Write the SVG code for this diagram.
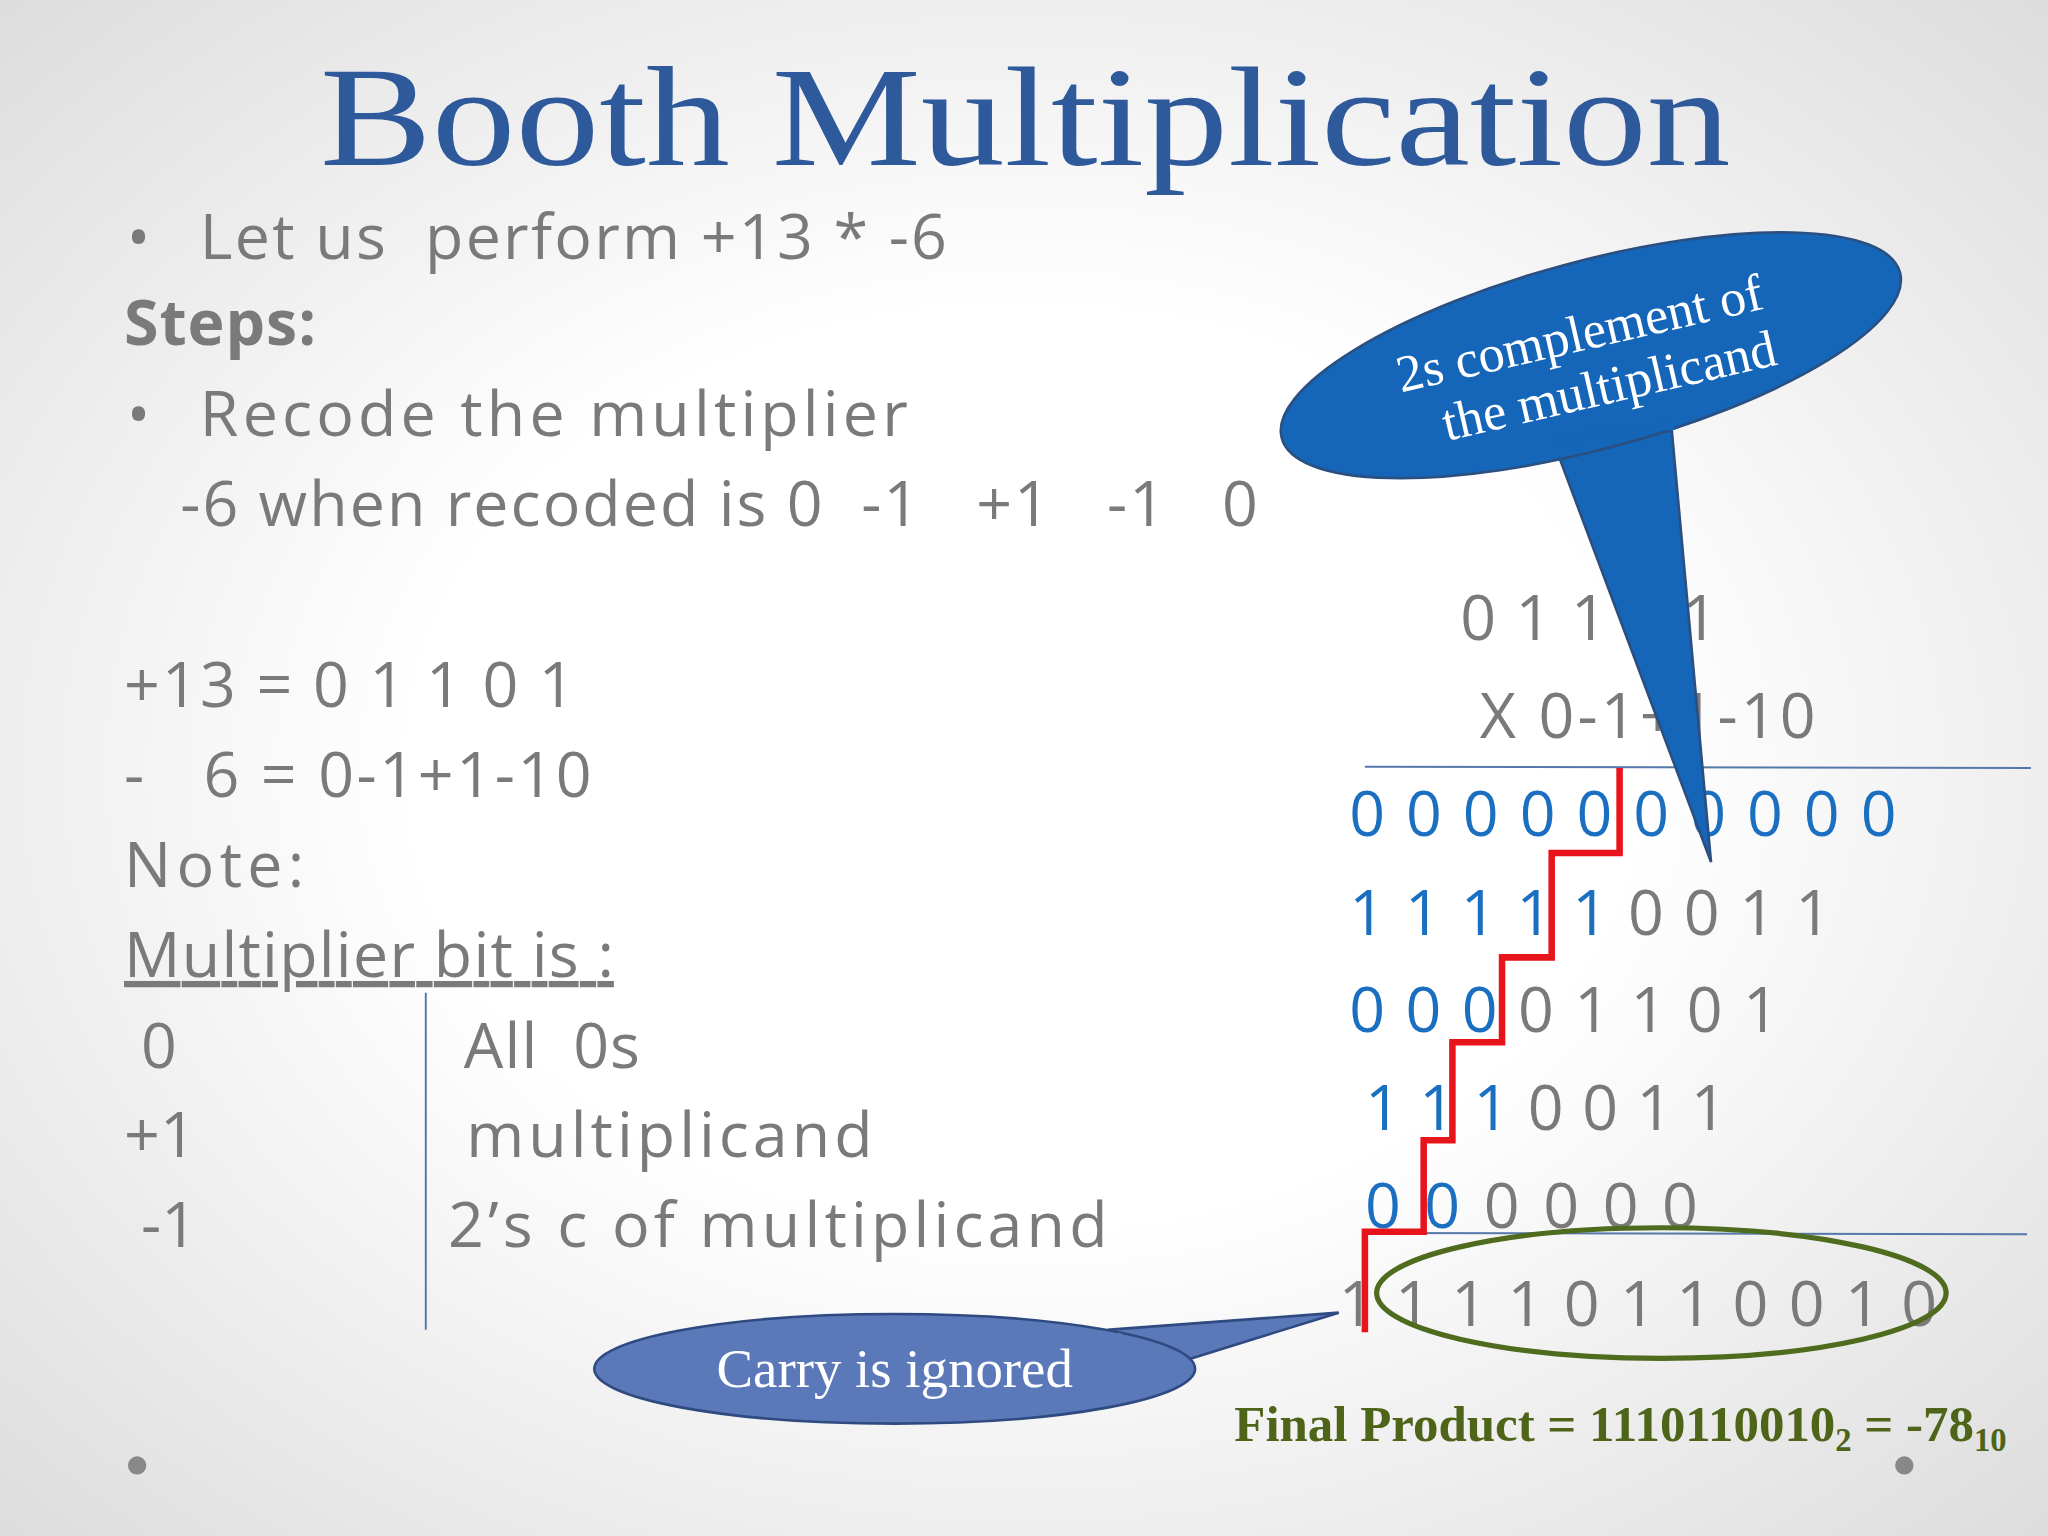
<svg xmlns="http://www.w3.org/2000/svg" width="2048" height="1536" viewBox="0 0 2048 1536">
<defs>
<radialGradient id="bg" cx="50%" cy="50%" r="75%"><stop offset="0.4" stop-color="#ffffff"/><stop offset="1" stop-color="#d9d9d9"/></radialGradient>
<style>
.t{font-family:"Open Sans","Liberation Sans",sans-serif;fill:#7a7a7a;font-size:48px}
.s{font-family:"Liberation Serif",serif}
</style>
</defs>
<rect width="2048" height="1536" fill="url(#bg)"/>
<g transform="scale(1.30612)">
<g id="title"><text x="245" y="126" textLength="1080" lengthAdjust="spacingAndGlyphs" class="s" font-size="108" fill="#2e5a9c">Booth Multiplication</text></g>
<g id="left">
<text class="t" x="97" y="198">•</text><text class="t" x="153" y="198" textLength="572">Let us&#160; perform +13 * -6</text>
<text class="t" x="95" y="264" font-weight="bold" font-size="44" textLength="147">Steps:</text>
<text class="t" x="97" y="334">•</text><text class="t" x="153" y="334" textLength="542">Recode the multiplier</text>
<text class="t" x="138" y="403" textLength="825">-6 when recoded is 0&#160; -1&#160;&#160; +1&#160;&#160; -1&#160;&#160; 0</text>
<text class="t" x="95" y="541" textLength="345">+13 = 0 1 1 0 1</text>
<text class="t" x="95" y="610" textLength="358">-&#160;&#160; 6 = 0-1+1-10</text>
<text class="t" x="95" y="679" textLength="138">Note:</text>
<text class="t" x="95" y="748" textLength="375" text-decoration="underline">Multiplier bit is :</text>
<text class="t" x="108" y="818">0</text><text class="t" x="355" y="818" textLength="135">All&#160; 0s</text>
<text class="t" x="95" y="886">+1</text><text class="t" x="357" y="886" textLength="311">multiplicand</text>
<text class="t" x="108" y="955">-1</text><text class="t" x="343" y="955" textLength="505">2’s c of multiplicand</text>
<line x1="326" y1="760" x2="326" y2="1018" stroke="#5577aa" stroke-width="1.5"/>
</g>
<g id="calc">
<text class="t" x="1118" y="490" textLength="197">0 1 1 0 1</text>
<text class="t" x="1133" y="565" textLength="257">X 0-1+1-10</text>
<line x1="1045" y1="587" x2="1555" y2="588" stroke="#5577aa" stroke-width="1.5"/>
<text class="t" x="1033" y="640" style="fill:#1a6fc0" textLength="419">0 0 0 0 0 0 0 0 0 0</text>
<text class="t" x="1033" y="716" textLength="369"><tspan style="fill:#1a6fc0">1 1 1 1 1 </tspan>0 0 1 1</text>
<text class="t" x="1033" y="790" textLength="329"><tspan style="fill:#1a6fc0">0 0 0 </tspan>0 1 1 0 1</text>
<text class="t" x="1045" y="865" textLength="277"><tspan style="fill:#1a6fc0">1 1 1 </tspan>0 0 1 1</text>
<text class="t" x="1045" y="940" textLength="255"><tspan style="fill:#1a6fc0">0 0 </tspan>0 0 0 0</text>
<line x1="1045" y1="944" x2="1552" y2="945" stroke="#5577aa" stroke-width="1.5"/>
<text class="t" x="1025" y="1015" textLength="458">1 1 1 1 0 1 1 0 0 1 0</text>
<path d="M1045,1020 V943 H1090 V873 H1112 V798 H1150 V733 H1188 V653 H1240 V588" fill="none" stroke="#e8141c" stroke-width="5"/>
<ellipse cx="1272" cy="990" rx="218" ry="50" fill="none" stroke="#4f6b1e" stroke-width="4"/>
<text x="945" y="1103" class="s" font-size="39" font-weight="bold" fill="#4e6419">Final Product = 1110110010<tspan font-size="25" dy="8">2</tspan><tspan dy="-8"> = -78</tspan><tspan font-size="25" dy="8">10</tspan></text>
</g>
<g id="callout1">
<path d="M1190,340 L1310,660 L1280,330 Z" fill="#1565b8" stroke="#2a4f80" stroke-width="2"/>
<ellipse cx="1218" cy="272" rx="245" ry="72" transform="rotate(-15 1218 272)" fill="#1565b8" stroke="#2a4f80" stroke-width="2"/>
<path d="M1192,336 L1282,326" stroke="#1565b8" stroke-width="6"/>
<g transform="rotate(-13 1215 280)" class="s" font-size="40" fill="#fff" text-anchor="middle"><text x="1215" y="268">2s complement of</text><text x="1228" y="312">the multiplicand</text></g>
</g>
<g id="callout2">
<path d="M850,1018 L1025,1005 L880,1050 Z" fill="#5b79b8" stroke="#2e4a80" stroke-width="2"/>
<ellipse cx="685" cy="1048" rx="230" ry="42" fill="#5b79b8" stroke="#2e4a80" stroke-width="2"/>
<path d="M855,1022 L878,1046" stroke="#5b79b8" stroke-width="6"/>
<text x="685" y="1062" text-anchor="middle" class="s" font-size="42" fill="#fff">Carry is ignored</text>
</g>
<circle cx="105" cy="1122" r="7" fill="#888"/><circle cx="1458" cy="1122" r="7" fill="#888"/>
</g>
</svg>
